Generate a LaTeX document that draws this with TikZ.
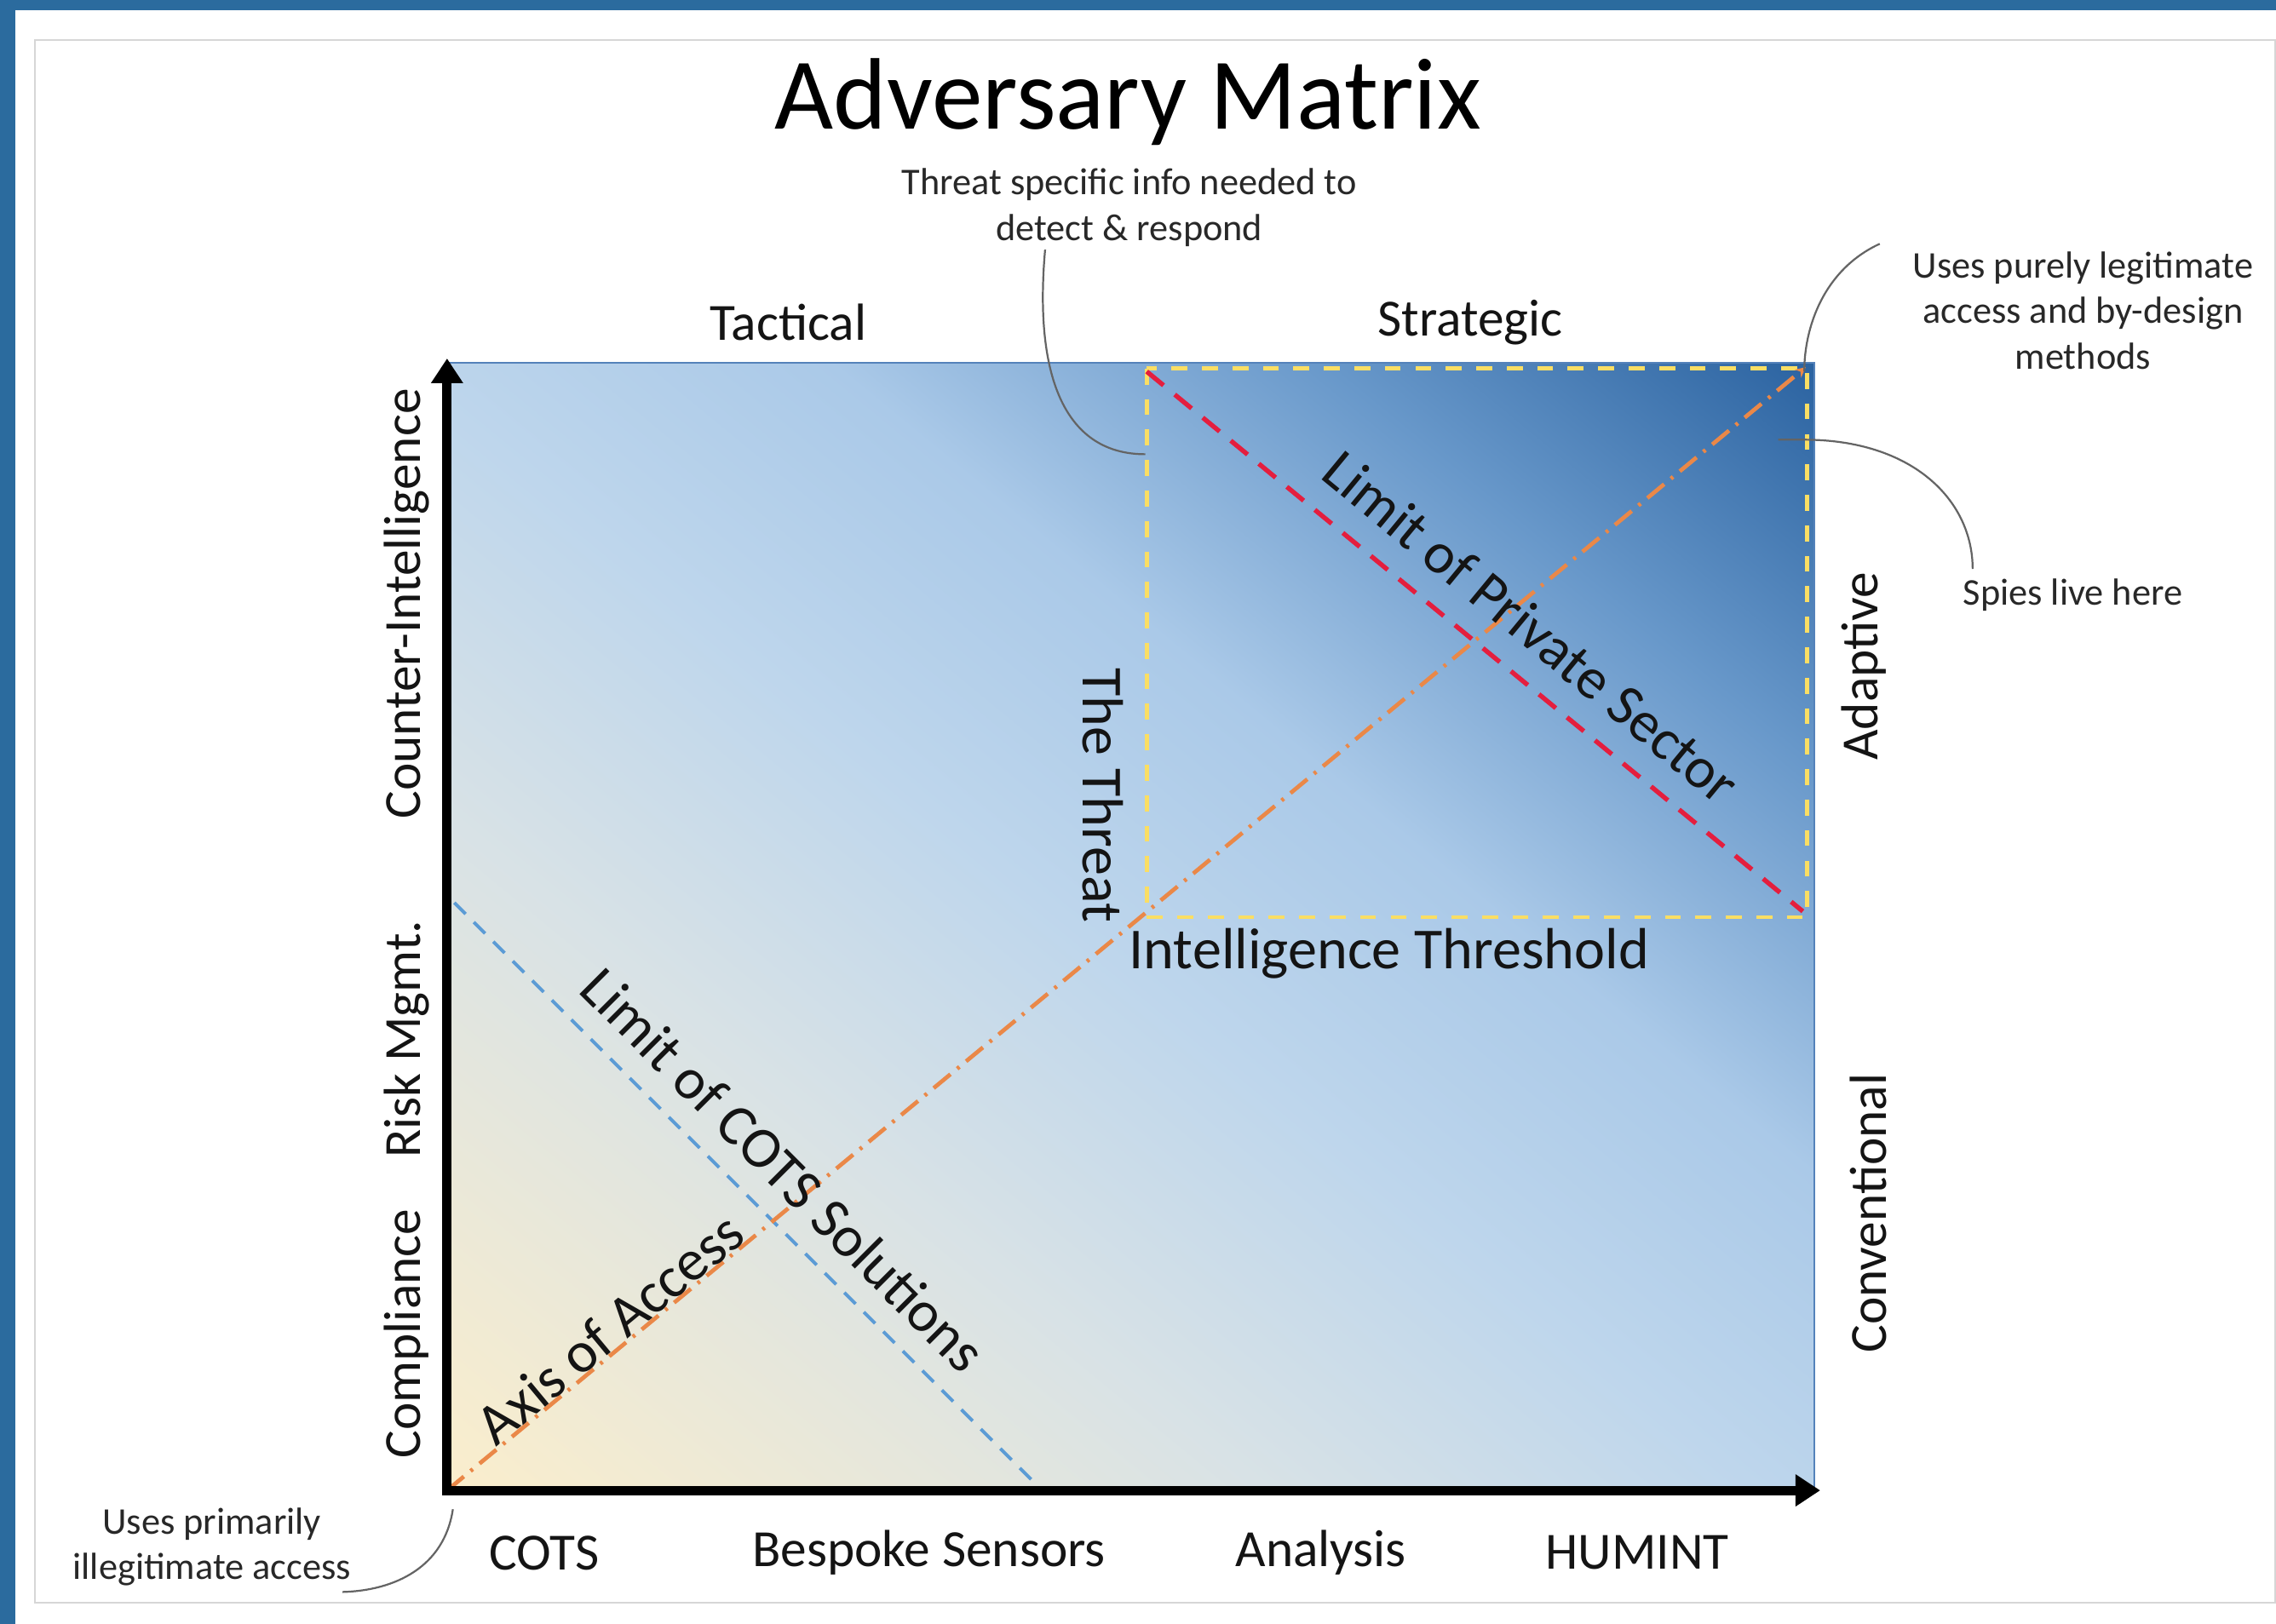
\documentclass[tikz,border=0pt]{standalone}
\usepackage{fontspec}
\setmainfont{Carlito}
\usetikzlibrary{arrows.meta}

\definecolor{framebg}{RGB}{43,107,158}
\definecolor{panelline}{RGB}{214,214,214}
\definecolor{cream}{RGB}{251,238,204}
\definecolor{mixa}{RGB}{216,226,230}
\definecolor{lightb}{RGB}{190,214,236}
\definecolor{lightc}{RGB}{170,201,232}
\definecolor{midb}{RGB}{104,152,202}
\definecolor{darkb}{RGB}{42,98,160}
\definecolor{plotedge}{RGB}{84,130,186}
\definecolor{threshy}{RGB}{250,222,100}
\definecolor{privred}{RGB}{228,30,62}
\definecolor{accessor}{RGB}{234,136,72}
\definecolor{cotsblue}{RGB}{91,155,213}
\definecolor{notegray}{RGB}{100,100,100}
\definecolor{notetext}{RGB}{40,40,40}
\definecolor{labtext}{RGB}{20,20,20}

% diagonal fade of the matrix field: cream (lower left) to deep blue (upper right)
\pgfdeclarehorizontalshading{matrixfade}{100bp}{%
  color(0bp)=(cream); color(25bp)=(cream); color(40bp)=(mixa);
  color(49bp)=(lightb); color(57bp)=(lightc); color(66bp)=(midb);
  color(75bp)=(darkb); color(100bp)=(darkb)}

\tikzset{
  titletext/.style={font=\fontsize{70}{84}\selectfont, text=black, inner sep=0pt},
  axislab/.style={font=\fontsize{36}{43}\selectfont, text=labtext, inner sep=0pt},
  fieldlab/.style={font=\fontsize{40}{48}\selectfont, text=labtext, inner sep=0pt},
  notetxt/.style={font=\fontsize{26}{31.5}\selectfont, text=notetext, align=center, inner sep=0pt},
  axisline/.style={line width=6.5pt, line join=miter, black,
    {Triangle[length=17pt,width=21pt]}-{Triangle[length=17pt,width=21pt]}},
  threshbox/.style={threshy, line width=2.8pt, dash pattern=on 11pt off 10pt},
  privline/.style={privred, line width=3.2pt, dash pattern=on 15pt off 10pt},
  accessline/.style={accessor, line width=2.8pt, dash pattern=on 15pt off 6pt on 2pt off 6pt},
  cotsline/.style={cotsblue, line width=2.3pt, dash pattern=on 11pt off 8pt},
  callout/.style={notegray, line width=1.3pt},
}

\begin{document}
\begin{tikzpicture}[x=1pt,y=-1pt]
  % page frame and white card
  \fill[framebg] (0,0) rectangle (1568,1119);
  \useasboundingbox (0,0) rectangle (1568,1119);
  \fill[white] (10.5,7) rectangle (1568,1119);
  \draw[panelline, line width=1pt] (24,27.5) rectangle (1567.3,1104.5);

  % key points of the matrix
  \coordinate (o) at (308,1027);
  \coordinate (ytip) at (308,247);
  \coordinate (xtip) at (1254,1027);
  \coordinate (tr) at (1250,250);
  \coordinate (thtl) at (790,254);
  \coordinate (thbr) at (1245,632);

  % shaded field, iso-colour lines parallel to the upper-left/lower-right diagonal
  \begin{scope}
    \clip (308,250) rectangle (1250,1027);
    \shade[shading=matrixfade,
      transform canvas={shift={(779,638.5)}, rotate=50.5}]
      (-600,-720) rectangle (600,720);
  \end{scope}
  \draw[plotedge, line width=1pt] (308,250) rectangle (1250,1027);

  % limit lines and thresholds
  \draw[cotsline] (313,622) -- (715,1024);
  \draw[threshbox] (thtl) rectangle (thbr);
  \draw[privline] (790,256) -- (1242,628);
  \draw[accessline, -{Stealth[length=7pt,width=7pt]}] (o) -- (1244,253);

  % axes
  \draw[axisline] (ytip) -- (o) -- (xtip);

  % title and notes
  \node[titletext] (title) at (777,70) {Adversary Matrix};
  \node[notetxt] (nthreat) at (778,143) {Threat specific info needed to\\detect \& respond};
  \node[notetxt] (nlegit) at (1435,214) {Uses purely legitimate\\access and by-design\\methods};
  \node[notetxt] (nspies) at (1428,410) {Spies live here};
  \node[notetxt] (nillegit) at (146,1066) {Uses primarily\\illegitimate access};

  % top and bottom axis labels
  \node[axislab] (tact) at (543,222) {Tactical};
  \node[axislab] (strat) at (1013,222) {Strategic};
  \node[axislab] (cots) at (375,1070) {COTS};
  \node[axislab] (bespoke) at (640,1070) {Bespoke Sensors};
  \node[axislab] (analysis) at (910,1070) {Analysis};
  \node[axislab] (humint) at (1128,1070) {HUMINT};

  % left and right axis labels
  \node[axislab, rotate=90] (ci) at (280,416) {Counter-Intelligence};
  \node[axislab, rotate=90] (risk) at (280,716) {Risk Mgmt.};
  \node[axislab, rotate=90] (compl) at (280,919) {Compliance};
  \node[axislab, rotate=90] (adapt) at (1284,459) {Adaptive};
  \node[axislab, rotate=90] (conv) at (1287,836) {Conventional};

  % labels inside the field
  \node[fieldlab, rotate=-90] (threat) at (760,548) {The Threat};
  \node[fieldlab] (ithresh) at (957,657) {Intelligence Threshold};
  \node[fieldlab, rotate=-39.5] (lpriv) at (1055,432) {Limit of Private Sector};
  \node[fieldlab, rotate=-45] (lcots) at (540,806) {Limit of COTS Solutions};
  \node[fieldlab, rotate=39.6] (axacc) at (420,915) {Axis of Access};

  % callout curves
  \draw[callout] (720,172) .. controls (712,262) and (735,313) .. (789,313);
  \draw[callout] (1295,168) .. controls (1256,186) and (1243,226) .. (1243,256);
  \draw[callout] (1225,303) -- (1243,303) .. controls (1318,303) and (1359,345) .. (1359,392);
  \draw[callout] (312,1040) .. controls (306,1080) and (272,1096) .. (236,1097);
\end{tikzpicture}
\end{document}
